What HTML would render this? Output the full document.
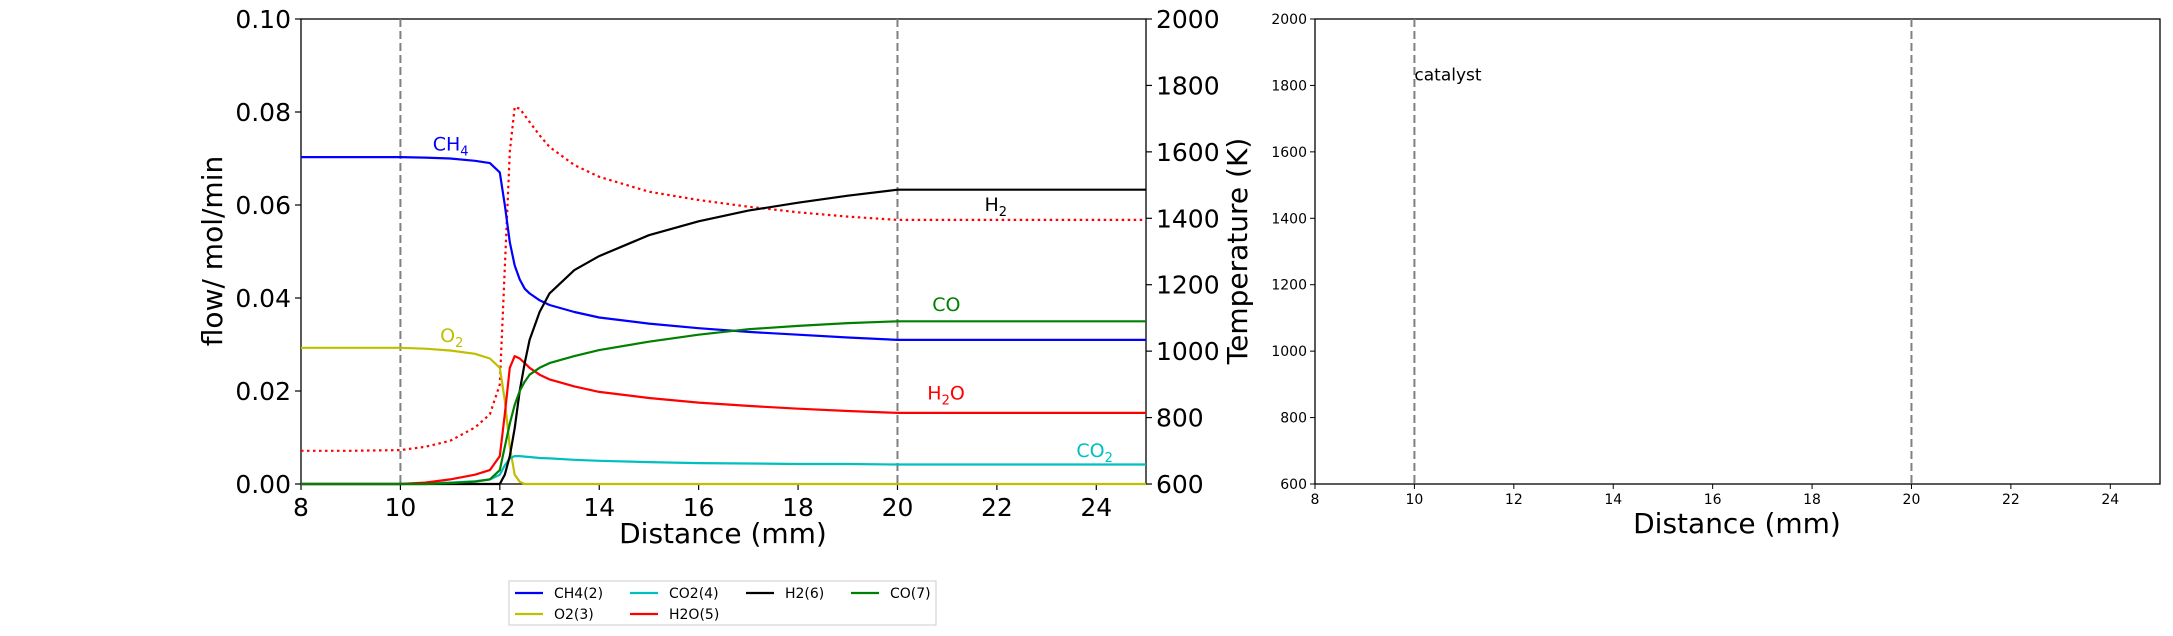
<!DOCTYPE html>
<html><head><meta charset="utf-8"><style>
body{margin:0;background:#fff;}
svg{display:block;font-family:"DejaVu Sans","Liberation Sans",sans-serif;}
</style></head><body>
<svg id="c" width="2173" height="636" viewBox="0 0 2173 636"></svg>
<script>
const distances=[8,9,10,10.5,11,11.5,11.8,12,12.1,12.2,12.3,12.4,12.5,12.6,12.8,13,13.5,14,15,16,17,18,19,20,21,22,23,24,25];
const ch4=[0.0703,0.0703,0.0703,0.0702,0.070,0.0695,0.069,0.067,0.060,0.052,0.047,0.044,0.042,0.041,0.0395,0.0385,0.037,0.0358,0.0345,0.0335,0.0327,0.0321,0.0315,0.031,0.031,0.031,0.031,0.031,0.031];
const o2=[0.0293,0.0293,0.0293,0.0291,0.0287,0.028,0.027,0.025,0.018,0.008,0.002,0.0005,0,0,0,0,0,0,0,0,0,0,0,0,0,0,0,0,0];
const co2=[0,0,0,0.0001,0.0003,0.0006,0.001,0.002,0.004,0.0055,0.006,0.006,0.0059,0.0058,0.0056,0.0055,0.0052,0.005,0.0047,0.0045,0.0044,0.0043,0.0043,0.0042,0.0042,0.0042,0.0042,0.0042,0.0042];
const h2o=[0,0,0,0.0003,0.001,0.002,0.003,0.006,0.015,0.025,0.0275,0.027,0.026,0.025,0.0235,0.0225,0.021,0.0198,0.0185,0.0175,0.0168,0.0162,0.0157,0.0153,0.0153,0.0153,0.0153,0.0153,0.0153];
const h2=[0,0,0,0,0,0,0,0,0.002,0.006,0.012,0.02,0.026,0.031,0.037,0.041,0.046,0.049,0.0535,0.0565,0.0588,0.0605,0.062,0.0633,0.0633,0.0633,0.0633,0.0633,0.0633];
const co=[0,0,0,0,0.0002,0.0005,0.001,0.003,0.008,0.013,0.017,0.02,0.022,0.0235,0.025,0.026,0.0275,0.0288,0.0306,0.0321,0.0333,0.034,0.0346,0.035,0.035,0.035,0.035,0.035,0.035];
const temps=[700,700,702,712,730,770,810,900,1250,1600,1735,1730,1710,1690,1650,1615,1560,1525,1480,1455,1435,1418,1405,1395,1395,1395,1395,1395,1395];
const xTicks=[8,10,12,14,16,18,20,22,24];
const yTicks=[0,0.02,0.04,0.06,0.08,0.10];
const tTicks=[600,800,1000,1200,1400,1600,1800,2000];
const NS="http://www.w3.org/2000/svg";
const svg=document.getElementById('c');
function mk(tag,at,txt){const e=document.createElementNS(NS,tag);for(const k in at)e.setAttribute(k,at[k]);if(txt!==undefined)e.textContent=txt;svg.appendChild(e);return e;}
const L={x0:301,x1:1146,y0:484,y1:19},R={x0:1315,x1:2160,y0:484,y1:19};
const xs=(p,v)=>p.x0+(v-8)/(25-8)*(p.x1-p.x0);
const yf=v=>L.y0-v/0.1*(L.y0-L.y1);
const yt=(p,v)=>p.y0-(v-600)/1400*(p.y0-p.y1);
let e;
e=mk('rect',{x:L.x0,y:L.y1,width:L.x1-L.x0,height:L.y0-L.y1,fill:'none',stroke:'#000','stroke-width':1.3});

e=mk('rect',{x:R.x0,y:R.y1,width:R.x1-R.x0,height:R.y0-R.y1,fill:'none',stroke:'#000','stroke-width':1.3});

[L,R].forEach((p,i)=>[10,20].forEach(v=>{e=mk('line',{x1:xs(p,v),x2:xs(p,v),y1:p.y1,y2:p.y0,stroke:'#808080','stroke-width':2,'stroke-dasharray':'8,4'});
}));
xTicks.forEach(v=>{const x=xs(L,v);mk('line',{x1:x,x2:x,y1:L.y0,y2:L.y0+6,stroke:'#000','stroke-width':1.2});
e=mk('text',{x:x,y:L.y0+32,'font-size':25,'text-anchor':'middle'},String(v));});
yTicks.forEach(v=>{const y=yf(v);mk('line',{x1:L.x0-6,x2:L.x0,y1:y,y2:y,stroke:'#000','stroke-width':1.2});
e=mk('text',{x:L.x0-10,y:y+9,'font-size':25,'text-anchor':'end'},v.toFixed(2));});
tTicks.forEach(v=>{const y=yt(L,v);mk('line',{x1:L.x1,x2:L.x1+6,y1:y,y2:y,stroke:'#000','stroke-width':1.2});
e=mk('text',{x:L.x1+10,y:y+9,'font-size':25},String(v));});
xTicks.forEach(v=>{const x=xs(R,v);mk('line',{x1:x,x2:x,y1:R.y0,y2:R.y0+5,stroke:'#000'});
e=mk('text',{x:x,y:R.y0+20,'font-size':14,'text-anchor':'middle'},String(v));});
tTicks.forEach(v=>{const y=yt(R,v);mk('line',{x1:R.x0-5,x2:R.x0,y1:y,y2:y,stroke:'#000'});
e=mk('text',{x:R.x0-8,y:y+5,'font-size':14,'text-anchor':'end'},String(v));});
e=mk('text',{x:723,y:543,'font-size':28,'text-anchor':'middle'},'Distance (mm)');
e=mk('text',{x:1737,y:533,'font-size':28,'text-anchor':'middle'},'Distance (mm)');
e=mk('text',{x:0,y:0,'font-size':28,'text-anchor':'middle',transform:'translate(222,251) rotate(-90)'},'flow/ mol/min');
e=mk('text',{x:0,y:0,'font-size':28,'text-anchor':'middle',transform:'translate(1247,251) rotate(-90)'},'Temperature (K)');
e=mk('text',{x:xs(R,10),y:yt(R,1800)-5,'font-size':17},'catalyst');
function line(arr,f,col,name,dash){const pts=distances.map((d,i)=>xs(L,d).toFixed(1)+','+f(arr[i]).toFixed(1)).join(' ');
const at={points:pts,fill:'none',stroke:col,'stroke-width':2.2,'stroke-linejoin':'round'};if(dash)at['stroke-dasharray']=dash;
const p=mk('polyline',at);}
line(temps,v=>yt(L,v),'#ff0000','temperature-line','2.5,3.5');
line(ch4,yf,'#0000ff','ch4-line');
line(o2,yf,'#bfbf00','o2-line');
line(co2,yf,'#00bfbf','co2-line');
line(h2o,yf,'#ff0000','h2o-line');
line(h2,yf,'#000000','h2-line');
line(co,yf,'#008000','co-line');
function lab(x,y,col,main,sub,after,name){const t=mk('text',{x:xs(L,x),y:yf(y),'font-size':19,fill:col});
t.appendChild(document.createTextNode(main));if(sub){const s=document.createElementNS(NS,'tspan');s.setAttribute('font-size',13);s.setAttribute('dy',5);s.textContent=sub;t.appendChild(s);}
if(after){const s=document.createElementNS(NS,'tspan');s.setAttribute('dy',-5);s.textContent=after;t.appendChild(s);}}
lab(10.65,0.0717,'#0000ff','CH','4','','ch4-label');
lab(10.8,0.0305,'#bfbf00','O','2','','o2-label');
lab(21.75,0.0587,'#000','H','2','','h2-label');
lab(20.7,0.0372,'#008000','CO','','','co-label');
lab(20.6,0.0182,'#ff0000','H','2','O','h2o-label');
lab(23.6,0.0058,'#00bfbf','CO','2','','co2-label');
e=mk('rect',{x:509,y:581,width:427,height:44,fill:'#fff',stroke:'#ccc','stroke-width':1});
const legItems=[['CH4(2)','#0000ff',0,0],['CO2(4)','#00bfbf',1,0],['H2(6)','#000',2,0],['CO(7)','#008000',3,0],['O2(3)','#bfbf00',0,1],['H2O(5)','#ff0000',1,1]];
const colX=[515,630,746,851];
legItems.forEach(it=>{const x=colX[it[2]],y=593+it[3]*21;
mk('line',{x1:x,x2:x+28,y1:y,y2:y,stroke:it[1],'stroke-width':2.2});
e=mk('text',{x:x+39,y:y+5,'font-size':14},it[0]);});
</script>
</body></html>
